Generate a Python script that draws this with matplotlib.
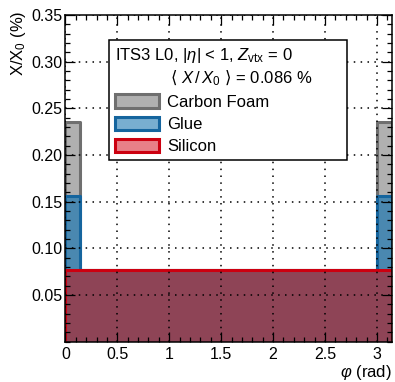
import matplotlib
matplotlib.use('Agg')
import matplotlib.pyplot as plt
import numpy as np
from matplotlib.patches import Patch
from matplotlib.ticker import MultipleLocator, FixedLocator, FixedFormatter

plt.rcParams['font.family'] = ['Liberation Sans', 'DejaVu Sans']
plt.rcParams['mathtext.fontset'] = 'custom'
plt.rcParams['mathtext.rm'] = 'Liberation Sans'
plt.rcParams['mathtext.it'] = 'Liberation Sans:italic'
plt.rcParams['mathtext.bf'] = 'Liberation Sans:bold'
plt.rcParams['mathtext.sf'] = 'DejaVu Sans'

# material budget per phi bin (% X0), 22 bins over [0, pi]
phi_edges = np.linspace(0, np.pi, 23)
silicon = [0.077, 0.077, 0.077, 0.077, 0.077, 0.077, 0.077, 0.077, 0.077, 0.077, 0.077,
           0.077, 0.077, 0.077, 0.077, 0.077, 0.077, 0.077, 0.077, 0.077, 0.077, 0.077]
glue = [0.079, 0, 0, 0, 0, 0, 0, 0, 0, 0, 0,
        0, 0, 0, 0, 0, 0, 0, 0, 0, 0, 0.079]
carbon_foam = [0.079, 0, 0, 0, 0, 0, 0, 0, 0, 0, 0,
               0, 0, 0, 0, 0, 0, 0, 0, 0, 0, 0.079]
labels = ['Carbon Foam', 'Glue', 'Silicon']
x_ticks = [0, 0.5, 1, 1.5, 2, 2.5, 3]
x_ticklabels = ['0', '0.5', '1', '1.5', '2', '2.5', '3']
y_ticks = [0.05, 0.10, 0.15, 0.20, 0.25, 0.30, 0.35]
y_ticklabels = ['0.05', '0.10', '0.15', '0.20', '0.25', '0.30', '0.35']

si = np.array(silicon)
cum_glue = si + np.array(glue)
cum_foam = cum_glue + np.array(carbon_foam)

fig = plt.figure(figsize=(3.95, 3.82), dpi=100)
ax = fig.add_axes([0.1656, 0.1055, 0.8258, 0.855])

lw = 2.2
# stacked: each layer filled from zero up to its cumulative sum
ax.stairs(cum_foam, phi_edges, baseline=0, fill=True, facecolor='#b0b0b0',
          edgecolor='#6f6f6f', lw=lw, joinstyle='round', zorder=1)
ax.stairs(cum_glue, phi_edges, baseline=0, fill=True, facecolor='#4a88b0',
          edgecolor='#15659e', lw=lw, joinstyle='round', zorder=1.1)
ax.stairs(si, phi_edges, baseline=0, fill=True, facecolor='#8e4456',
          edgecolor='#cc0010', lw=lw, joinstyle='round', zorder=1.2)

ax.set_xlim(0, np.pi)
ax.set_ylim(0, 0.35)
ax.xaxis.set_major_locator(FixedLocator(x_ticks))
ax.xaxis.set_major_formatter(FixedFormatter(x_ticklabels))
ax.yaxis.set_major_locator(FixedLocator(y_ticks))
ax.yaxis.set_major_formatter(FixedFormatter(y_ticklabels))
ax.xaxis.set_minor_locator(MultipleLocator(0.1))
ax.yaxis.set_minor_locator(MultipleLocator(0.01))
ax.tick_params(which='both', direction='in', top=True, right=True,
               labelsize=11.5, width=0.9, color='black')
ax.tick_params(which='major', length=7.5)
ax.tick_params(which='minor', length=3.8)
ax.tick_params(axis='x', pad=4)
ax.tick_params(axis='y', pad=2)
for s in ax.spines.values():
    s.set_linewidth(1.1)
    s.set_zorder(5)

ax.grid(True, which='major', color='black', linestyle=(0, (1, 3.5)), lw=1.1)
ax.set_axisbelow(False)

ax.set_ylabel('X/X$_0$ (%)', fontsize=12, loc='top')
ax.yaxis.set_label_coords(-0.115, 1.015)
ax.set_xlabel(r'$\varphi$ (rad)', fontsize=12, loc='right')
ax.xaxis.set_label_coords(1.0, -0.065)

title = ('ITS3 L0, $|\\eta|$ < 1, $Z_{\\rm vtx}$ = 0\n'
         '            $\\mathsf{\u27e8}\\ X\\,/\\,X_0\\ \\mathsf{\u27e9}$ = 0.086 %')
handles = [Patch(facecolor='#b0b0b0', edgecolor='#6f6f6f', lw=lw, joinstyle='round'),
           Patch(facecolor='#78aed0', edgecolor='#15659e', lw=lw, joinstyle='round'),
           Patch(facecolor='#e88088', edgecolor='#cc0010', lw=lw, joinstyle='round')]
leg = ax.legend(handles=handles, labels=labels, title=title, loc='upper left',
                bbox_to_anchor=(0.135, 0.563, 0.727, 0.361), mode='expand',
                borderaxespad=0, fontsize=12, title_fontsize=12, alignment='left',
                fancybox=False, framealpha=1, edgecolor='black', borderpad=0.35,
                handlelength=2.6, handleheight=0.85, handletextpad=0.5,
                labelspacing=0.4)
leg.get_frame().set_linewidth(1.1)
leg.get_title().set_linespacing(1.25)
leg.set_zorder(10)

fig.savefig('out.png', dpi=100)
